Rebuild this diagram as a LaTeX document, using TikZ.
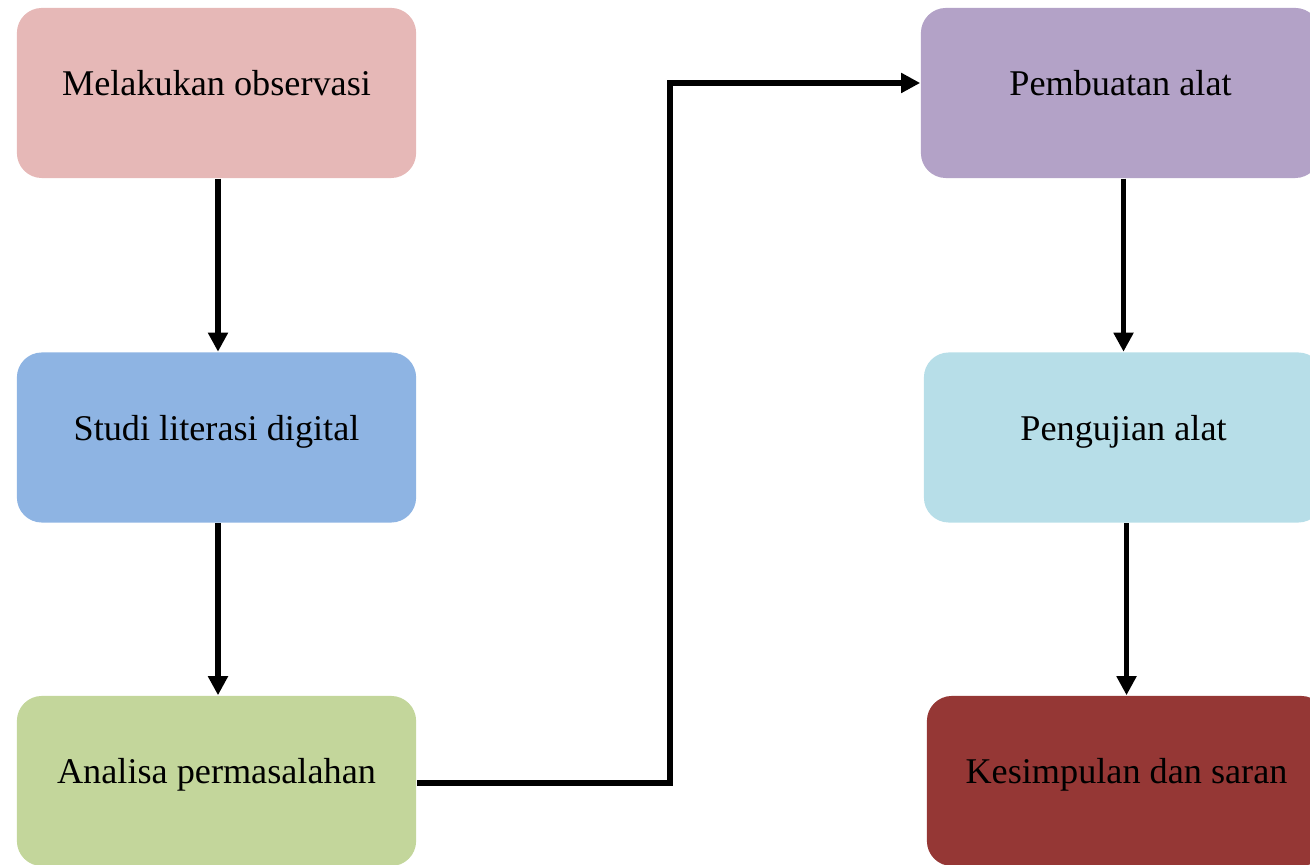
\documentclass[tikz,border=0pt]{standalone}
\usepackage{fontspec}
\setmainfont{Liberation Serif}
\usetikzlibrary{arrows.meta}

\definecolor{obsfill}{HTML}{E6B8B7}
\definecolor{studifill}{HTML}{8EB4E3}
\definecolor{analisafill}{HTML}{C3D69B}
\definecolor{buatfill}{HTML}{B3A2C7}
\definecolor{ujifill}{HTML}{B7DEE8}
\definecolor{kesfill}{HTML}{953735}

\tikzset{
  kotak/.style={rounded corners=0.25cm, minimum width=3.99cm, minimum height=1.7cm,
    inner sep=0pt, font=\fontsize{10.3}{12}\selectfont, text height=7pt, text depth=5.5pt},
  panah/.style={line width=1.5pt, -{Triangle[length=0.19cm,width=0.19cm]}}
}

\begin{document}
\begin{tikzpicture}[x=0.01cm,y=-0.01cm]
\useasboundingbox (0,0) rectangle (1310,865);
\clip (0,0) rectangle (1310,865);

% kolom kiri
\node[kotak,fill=obsfill] (obs) at (216.5,93) {Melakukan observasi};
\node[kotak,fill=studifill] (studi) at (216.5,437.5) {Studi literasi digital};
\node[kotak,fill=analisafill] (analisa) at (216.5,781) {Analisa permasalahan};

% kolom kanan
\node[kotak,fill=buatfill] (buat) at (1120.5,93) {Pembuatan alat};
\node[kotak,fill=ujifill] (uji) at (1123.5,437.5) {Pengujian alat};
\node[kotak,fill=kesfill] (kes) at (1126.5,781) {Kesimpulan dan saran};

\coordinate (belok) at (670,0);

\draw[panah] ([xshift=0.015cm]obs.south) -- ([xshift=0.015cm]studi.north);
\draw[panah] ([xshift=0.015cm]studi.south) -- ([xshift=0.015cm]analisa.north);
\draw[panah] ([yshift=-0.02cm]analisa.east) -- ([yshift=-0.02cm]analisa.east -| belok) |- ([yshift=0.1cm]buat.west);
\draw[panah] (uji.north |- buat.south) -- (uji.north);
\draw[panah] (kes.north |- uji.south) -- (kes.north);

\end{tikzpicture}
\end{document}
